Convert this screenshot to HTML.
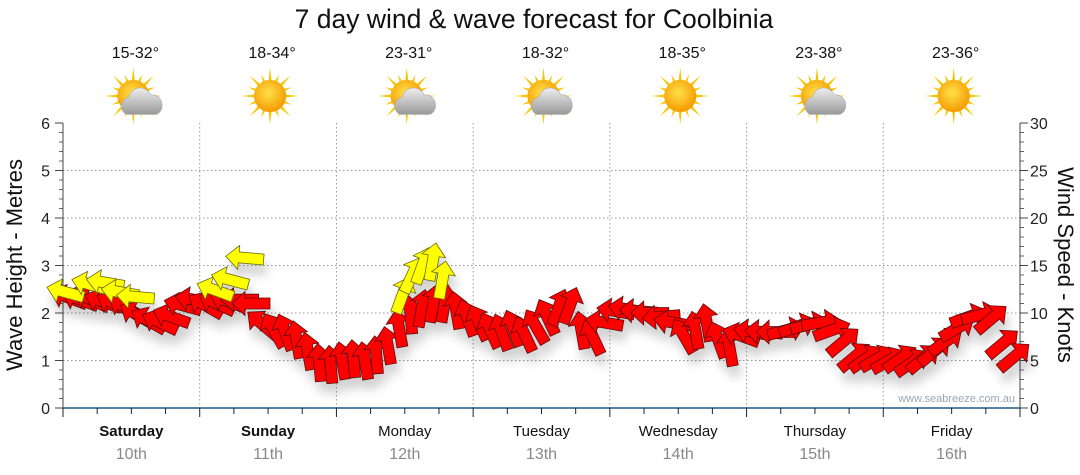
<!DOCTYPE html>
<html><head><meta charset="utf-8">
<style>
body{margin:0;background:#fff;width:1080px;height:475px;overflow:hidden;font-family:"Liberation Sans","DejaVu Sans",sans-serif}
svg{display:block}
</style></head><body>
<svg id="chart" width="1080" height="475">
<defs>
<filter id="sh" x="-50%" y="-50%" width="200%" height="200%"><feDropShadow dx="3" dy="10" stdDeviation="5" flood-color="#000" flood-opacity="0.18"/></filter>
<radialGradient id="sun" cx="45%" cy="40%" r="60%"><stop offset="0" stop-color="#ffe14a"/><stop offset="1" stop-color="#f59a00"/></radialGradient>
<linearGradient id="cloud" x1="0" y1="0" x2="0" y2="1"><stop offset="0" stop-color="#eee"/><stop offset="1" stop-color="#999"/></linearGradient>
</defs>
<text x="534" y="28" text-anchor="middle" font-size="26.5" fill="#111">7 day wind &amp; wave forecast for Coolbinia</text>
<g id="header"></g>
<g id="grid"></g>
<g id="axes"></g>
<g id="arrows" filter="url(#sh)"></g>
<text x="1015" y="402" text-anchor="end" font-size="11" fill="#9aa6b4">www.seabreeze.com.au</text>
<text transform="translate(22,265) rotate(-90)" text-anchor="middle" font-size="22" fill="#111">Wave Height - Metres</text>
<text transform="translate(1058,265) rotate(90)" text-anchor="middle" font-size="22" fill="#111">Wind Speed - Knots</text>
</svg>
<script>
const days = ["Saturday","Sunday","Monday","Tuesday","Wednesday","Thursday","Friday"];
const dates = ["10th","11th","12th","13th","14th","15th","16th"];
const temps = ["15-32°","18-34°","23-31°","18-32°","18-35°","23-38°","23-36°"];
const cloudy = [true,false,true,true,false,true,false];
const waveTicks = [0,1,2,3,4,5,6];
const windTicks = [0,5,10,15,20,25,30];
// wind every 2 hours starting at hour 1
const windSpeed = [
11.6,11.4,11.4,11.2,11.0,10.6,9.8,9.2,9.0,9.6,10.8,11.4,
10.8,11.0,11.2,11.4,11.0,8.8,8.2,8.0,7.2,6.0,4.8,4.6,
5.0,5.2,5.0,5.6,6.6,8.4,9.8,10.5,11.0,11.0,10.3,9.5,
9.0,8.2,8.0,8.4,7.8,8.6,9.6,10.6,10.8,8.2,7.5,9.0,
10.2,10.4,10.2,10.0,9.6,9.0,7.6,8.2,9.0,7.2,6.4,7.6,
8.0,8.0,8.0,8.2,8.6,8.8,9.0,8.2,7.0,5.4,5.2,5.2,
5.0,5.2,4.8,5.2,6.0,7.0,8.4,9.6,9.8,9.4,6.8,5.4];
const windDir = [
160,160,155,160,155,150,150,150,155,160,165,170,
150,155,160,180,180,140,120,110,100,100,95,95,
100,95,100,95,100,100,95,80,80,80,100,110,
115,115,110,110,115,120,115,70,70,100,115,170,
170,170,175,180,185,170,120,100,100,110,100,160,
170,175,180,15,20,15,10,20,40,40,35,30,
30,35,35,40,40,35,30,20,15,40,40,40];
// stronger-wind (yellow) arrows
const hiHour = [0.4,4.8,7.4,10.0,12.7,26.7,29.3,31.9,59.6,61.3,63.1,64.9,66.6];
const hiSpeed = [12.2,13.0,13.2,12.2,11.7,12.4,13.5,15.8,11.9,14.0,15.0,15.4,13.5];
const hiDir = [165,165,170,170,175,160,165,175,70,65,70,80,80];

const X0=63,X1=1020,Y0=408,Y1=123,DAYW=(X1-X0)/7;
const xH=h=>X0+h/24*DAYW;
const yWave=m=>Y0-(m/6)*(Y0-Y1);
const yWind=k=>Y0-(k/30)*(Y0-Y1);
const NS="http://www.w3.org/2000/svg";
function mk(tag,attrs,parent){const e=document.createElementNS(NS,tag);for(const k in attrs)e.setAttribute(k,attrs[k]);parent.appendChild(e);return e;}
const header=document.getElementById('header'),grid=document.getElementById('grid'),axes=document.getElementById('axes'),arrows=document.getElementById('arrows');

days.forEach((d,i)=>{
  const cx=X0+(i+0.5)*DAYW+4;
  const t=mk('text',{x:cx,y:58,'text-anchor':'middle','font-size':16,fill:'#111'},header);t.textContent=temps[i];
  
  
  const g=mk('g',{transform:`translate(${cx-2},96) scale(1.15)`},header);
  
  
  for(let a=0;a<16;a++){const r=a%2?20:25;const ang=a*Math.PI/8;mk('polygon',{points:`${Math.cos(ang-0.12)*12},${Math.sin(ang-0.12)*12} ${Math.cos(ang)*r},${Math.sin(ang)*r} ${Math.cos(ang+0.12)*12},${Math.sin(ang+0.12)*12}`,fill:'#f7c600'},g);}
  mk('circle',{cx:0,cy:0,r:14,fill:'url(#sun)'},g);
  if(cloudy[i]){mk('path',{d:'M-6,16 a8,8 0 0 1 2,-15 a10,10 0 0 1 19,-2 a9,9 0 0 1 10,9 a8,8 0 0 1 -5,8 z',fill:'url(#cloud)',stroke:'#aaa','stroke-width':0.5},g);}
});
waveTicks.forEach(v=>{
  if(v>0&&v<6){const l=mk('line',{x1:X0,x2:X1,y1:yWave(v),y2:yWave(v),stroke:'#999','stroke-dasharray':'1.5,2.5'},grid);}
  const t=mk('text',{x:50,y:yWave(v)+6,'text-anchor':'end','font-size':16,fill:'#222'},axes);t.textContent=v;
  
  
  for(let m=1;m<5&&v<6;m++)mk('line',{x1:X0-4,x2:X0,y1:yWave(v+m*0.2),y2:yWave(v+m*0.2),stroke:'#666'},axes);
  mk('line',{x1:X0-8,x2:X0,y1:yWave(v),y2:yWave(v),stroke:'#444'},axes);
});
windTicks.forEach(v=>{
  const t=mk('text',{x:1030,y:yWind(v)+6,'font-size':16,fill:'#222'},axes);t.textContent=v;
  
  
  for(let m=1;m<5&&v<30;m++)mk('line',{x1:X1,x2:X1+4,y1:yWind(v+m),y2:yWind(v+m),stroke:'#666'},axes);
  mk('line',{x1:X1,x2:X1+8,y1:yWind(v),y2:yWind(v),stroke:'#444'},axes);
});
for(let d=1;d<7;d++){const l=mk('line',{x1:X0+d*DAYW,x2:X0+d*DAYW,y1:Y1,y2:Y0,stroke:'#999','stroke-dasharray':'1.5,2.5'},grid);}
mk('line',{x1:X0,x2:X0,y1:Y1,y2:Y0,stroke:'#444'},axes);
mk('line',{x1:X1,x2:X1,y1:Y1,y2:Y0,stroke:'#444'},axes);
mk('line',{x1:X0,x2:X1,y1:Y0,y2:Y0,stroke:'#1f5a85','stroke-width':1.5},axes);
for(let h=0;h<=168;h+=6){mk('line',{x1:xH(h),x2:xH(h),y1:Y0,y2:Y0+(h%24?6:9),stroke:'#222'},axes);}
days.forEach((d,i)=>{
  const cx=X0+(i+0.5)*DAYW;
  const t=mk('text',{x:cx,y:436,'text-anchor':'middle','font-size':15,fill:'#111','font-weight':i<2?'bold':'normal'},axes);t.textContent=d;
  
  
  const t2=mk('text',{x:cx,y:459,'text-anchor':'middle','font-size':16,fill:'#888'},axes);t2.textContent=dates[i];
  
  
});
function arrow(h,k,dir,col){
  const x=xH(h),y=yWind(k);
  return mk('polygon',{points:'-19,-5.5 6,-5.5 6,-12 19,0 6,12 6,5.5 -19,5.5',fill:col,stroke:'#5a1010','stroke-width':0.8,transform:`translate(${x.toFixed(1)},${y.toFixed(1)}) rotate(${-dir})`},arrows);
}
windSpeed.forEach((k,i)=>{
  const p=arrow(1+2*i,k,windDir[i],'#ff0000');
  
  
});
hiSpeed.forEach((k,i)=>{
  const p=arrow(hiHour[i],k,hiDir[i],'#ffff00');
  p.setAttribute('stroke','#6b6b10');
  
  
});
</script>
</body></html>
